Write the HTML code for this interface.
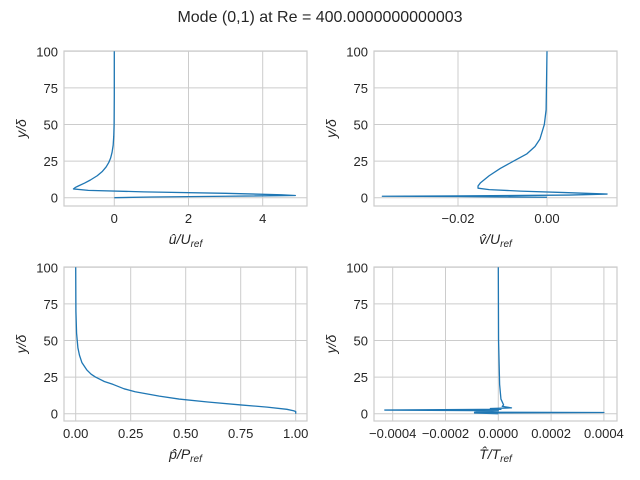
<!DOCTYPE html>
<html><head><meta charset="utf-8"><style>
body{margin:0;background:#fff}
svg{display:block;font-family:"Liberation Sans",sans-serif}
</style></head><body>
<svg id="fig" width="640" height="480" viewBox="0 0 640 480">
<rect width="640" height="480" fill="#fff"/>
<text x="320" y="22" text-anchor="middle" font-size="16" fill="#262626">Mode (0,1) at Re = 400.0000000000003</text>
</svg>
<script>
// y positions (y/delta) and values per panel
const uY=[100,70,50,42,36,31,27,24,21,18,15,12,10,8,7,6,5,4,3,2,1.5,1,0.5,0];
const uX=[0,0,-0.005,-0.015,-0.03,-0.06,-0.1,-0.15,-0.22,-0.32,-0.46,-0.65,-0.8,-0.97,-1.05,-1.1,-0.7,0.8,3,4.5,4.88,3,1,0];
const vY=[100,60,50,40,35,30,25,20,15,10,8,6.5,5.5,4.5,3.5,2.5,1.8,1.2,1,0.8,0.3];
const vX=[0,-0.0002,-0.0006,-0.0016,-0.0027,-0.0045,-0.0075,-0.0105,-0.013,-0.015,-0.0155,-0.0155,-0.013,-0.006,0.004,0.0135,0.005,-0.02,-0.037,-0.02,0];
const pY=[100,70,55,45,40,35,30,27,25,22,20,17,15,12,10,8,6,4.5,3,2,1.5,0];
const pX=[0,0.001,0.004,0.01,0.017,0.028,0.05,0.07,0.09,0.13,0.17,0.22,0.27,0.38,0.47,0.6,0.75,0.87,0.96,0.99,1.0,1.0];
const tY=[100,50,20,10,6,5,4,3.5,3,2.5,2,1.5,1,0.8,0.5,0];
const tX=[0,0.000001,0.000005,0.00001,0.00002,0.000015,0.00005,-0.00003,0.00001,-0.00043,0,-0.00007,-0.00009,0.0004,-0.00009,0];
const yTicks=[0,25,50,75,100];
const uTicks=[0,2,4], uTickLabels=["0","2","4"];
const vTicks=[-0.02,0], vTickLabels=["\u22120.02","0.00"];
const pTicks=[0,0.25,0.5,0.75,1], pTickLabels=["0.00","0.25","0.50","0.75","1.00"];
const tTicks=[-0.0004,-0.0002,0,0.0002,0.0004], tTickLabels=["\u22120.0004","\u22120.0002","0.0000","0.0002","0.0004"];

const NS="http://www.w3.org/2000/svg";
const svg=document.getElementById('fig');
function mk(tag,attrs,parent){const e=document.createElementNS(NS,tag);for(const k in attrs)e.setAttribute(k,attrs[k]);(parent||svg).appendChild(e);return e;}

function panel(name,box,xmap,ymap,xs,ys,xt,xtl,xlabelHTML){
  const g=mk('g',{});
  
  
  const X=v=>xmap[0]+(v-xmap[1])*xmap[2];
  const Y=v=>ymap[0]-(v)*ymap[1];
  yTicks.forEach(t=>{
    const l=mk('line',{x1:box[0],x2:box[1],y1:Y(t),y2:Y(t),stroke:'#cccccc','stroke-width':1},g);
    
    
    const tx=mk('text',{x:box[0]-6,y:Y(t)+5,'text-anchor':'end','font-size':13,fill:'#262626'},g);
    tx.textContent=t;
    
    
  });
  xt.forEach((t,i)=>{
    const l=mk('line',{x1:X(t),x2:X(t),y1:box[2],y2:box[3],stroke:'#cccccc','stroke-width':1},g);
    
    
    const tx=mk('text',{x:X(t),y:box[3]+17,'text-anchor':'middle','font-size':13,fill:'#262626'},g);
    tx.textContent=xtl[i];
    
    
  });
  const r=mk('rect',{x:box[0],y:box[2],width:box[1]-box[0],height:box[3]-box[2],fill:'none',stroke:'#cccccc','stroke-width':1.2},g);
  
  
  const pts=xs.map((v,i)=>X(v).toFixed(2)+','+Y(ys[i]).toFixed(2)).join(' ');
  const pl=mk('polyline',{points:pts,fill:'none',stroke:'#1f77b4','stroke-width':1.3,'stroke-linejoin':'round'},g);
  
  
  const yl=mk('text',{x:0,y:0,transform:`translate(${box[0]-38},${(box[2]+box[3])/2}) rotate(-90)`,'text-anchor':'middle','font-size':14,fill:'#262626','font-style':'italic'},g);
  yl.textContent='y/δ';
  
  
  const xl=mk('text',{x:(box[0]+box[1])/2,y:box[3]+38,'text-anchor':'middle','font-size':14,fill:'#262626','font-style':'italic'},g);
  xl.innerHTML=xlabelHTML;
  
  
}
const sub=(a,b,c)=>`${a}/${b}<tspan font-size="10" dy="3">${c}</tspan>`;
panel('u',[64,307,51,206],[114.3,0,37.1],[197.7,1.464],uX,uY,uTicks,uTickLabels,sub('û','U','ref'));
panel('v',[374,617,51,206],[547,0,4450],[197.7,1.464],vX,vY,vTicks,vTickLabels,sub('v̂','U','ref'));
panel('p',[64,307,267,421],[75.7,0,220],[413.7,1.464],pX,pY,pTicks,pTickLabels,sub('p̂','P','ref'));
panel('t',[374,617,267,421],[498.3,0,264000],[413.7,1.464],tX,tY,tTicks,tTickLabels,sub('T̂','T','ref'));
</script>
</body></html>
